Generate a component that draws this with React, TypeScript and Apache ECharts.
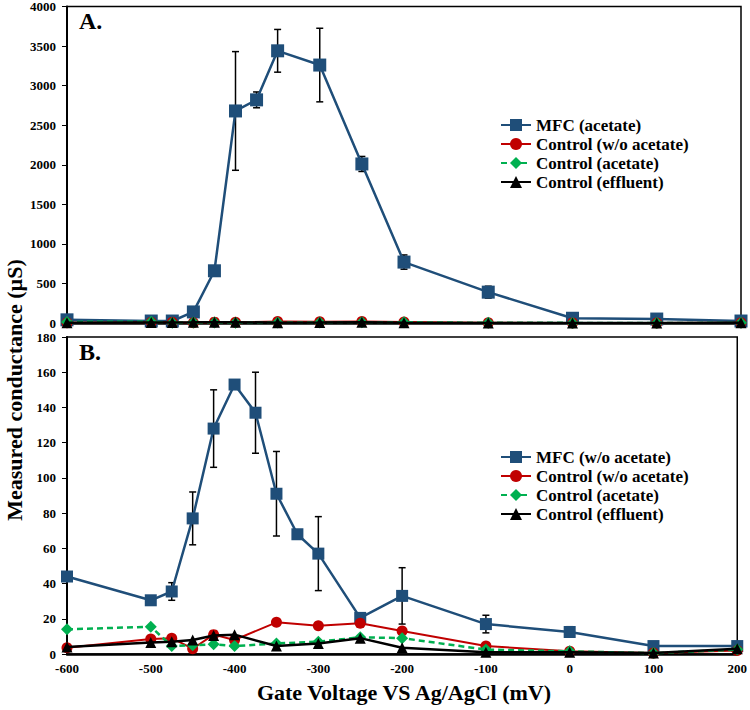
import React, { useEffect, useRef } from "react";
import * as echarts from "echarts";

// ---- data ----
const xA = [-600, -500, -475, -450, -425, -400, -375, -350, -300, -250, -200, -100, 0, 100, 200];
const mfcA = [40, 25, 25, 140, 660, 2680, 2820, 3440, 3260, 2010, 770, 390, 60, 50, 25];
const errA = [0, 0, 0, 0, 0, 750, 100, 270, 465, 95, 90, 75, 0, 0, 0];

const xB = [-600, -500, -475, -450, -425, -400, -375, -350, -325, -300, -250, -200, -100, 0, 100, 200];
const mfcB = [44, 30.5, 35.5, 77, 128, 153, 137, 91, 68, 57, 20.5, 33, 17, 12.5, 4.5, 4.5];
const errB = [0, 0, 5, 15, 22, 0, 23, 24, 0, 21, 0, 16, 5, 3, 0, 0];

const xC = [-600, -500, -475, -450, -425, -400, -350, -300, -250, -200, -100, 0, 100, 200];
const ctrlWoAcetate = [3.5, 8.5, 9, 3, 11, 8, 18, 16, 17.5, 13, 4.5, 1.5, 0.5, 2];
const ctrlAcetate = [14, 15.5, 4.5, 5, 5.5, 4.5, 6, 7, 9.5, 9, 2.5, 1.5, 0.5, 2.5];
const ctrlEffluent = [4, 6.5, 7, 8, 10.5, 11, 4.5, 6, 9, 3.5, 1, 1, 0.5, 3];

const legendA = ["MFC (acetate)", "Control (w/o acetate)", "Control (acetate)", "Control (effluent)"];
const legendB = ["MFC (w/o acetate)", "Control (w/o acetate)", "Control (acetate)", "Control (effluent)"];

const xTicks = { min: -600, max: 200, interval: 100 };
const yA = { min: 0, max: 4000, interval: 500 };
const yB = { min: 0, max: 180, interval: 20 };

const FONT = "Liberation Serif";
const BLUE = "#1F4E79";
const RED = "#C00000";
const GREEN = "#00B050";

const pair = (xs: number[], ys: number[]) => xs.map((x, i) => [x, ys[i]]);
const errData = (xs: number[], ys: number[], es: number[]) =>
  xs.map((x, i) => [x, ys[i], es[i]]).filter((d) => d[2] > 0);

function errSeries(idx: number, data: number[][]) {
  return {
    type: "custom",
    xAxisIndex: idx,
    yAxisIndex: idx,
    silent: true,
    z: 1,
    data,
    encode: { x: 0, y: 1 },
    renderItem: (_p: any, api: any) => {
      const x = api.value(0);
      const y = api.value(1);
      const e = api.value(2);
      const hi = api.coord([x, y + e]);
      const lo = api.coord([x, y - e]);
      const w = 3.5;
      const st = { stroke: "#000", lineWidth: 1.5 };
      return {
        type: "group",
        children: [
          { type: "line", shape: { x1: hi[0], y1: hi[1], x2: lo[0], y2: lo[1] }, style: st },
          { type: "line", shape: { x1: hi[0] - w, y1: hi[1], x2: hi[0] + w, y2: hi[1] }, style: st },
          { type: "line", shape: { x1: lo[0] - w, y1: lo[1], x2: lo[0] + w, y2: lo[1] }, style: st },
        ],
      };
    },
  };
}

function controlSeries(idx: number) {
  return [
    {
      name: "Control (w/o acetate)",
      type: "line",
      xAxisIndex: idx,
      yAxisIndex: idx,
      data: pair(xC, ctrlWoAcetate),
      symbol: "circle",
      symbolSize: 11,
      lineStyle: { color: RED, width: 2 },
      itemStyle: { color: RED },
      z: 3,
    },
    {
      name: "Control (acetate)",
      type: "line",
      xAxisIndex: idx,
      yAxisIndex: idx,
      data: pair(xC, ctrlAcetate),
      symbol: "diamond",
      symbolSize: 12,
      lineStyle: { color: GREEN, width: 2.5, type: [6, 4] },
      itemStyle: { color: GREEN },
      z: 4,
    },
    {
      name: "Control (effluent)",
      type: "line",
      xAxisIndex: idx,
      yAxisIndex: idx,
      data: pair(xC, ctrlEffluent),
      symbol: "triangle",
      symbolSize: 11,
      lineStyle: { color: "#000", width: 2.5 },
      itemStyle: { color: "#000" },
      z: 5,
    },
  ];
}

const labelStyle = { color: "#000", fontFamily: FONT, fontWeight: "bold" as const, fontSize: 13 };

export default function App() {
  const ref = useRef<HTMLDivElement>(null);
  useEffect(() => {
    if (!ref.current) return;
    const chart = echarts.init(ref.current, undefined, { renderer: "svg" });
    const legendBase = {
      orient: "vertical",
      itemWidth: 30,
      itemHeight: 15,
      itemGap: 0,
      padding: 0,
      selectedMode: false,
      textStyle: { ...labelStyle, fontSize: 17, lineHeight: 19 },
    };
    chart.setOption({
      animation: false,
      grid: [
        { left: 67, right: 9, top: 5, height: 318, show: true, borderColor: "#000", borderWidth: 1.5 },
        { left: 67, right: 9, top: 337, height: 317, show: true, borderColor: "#000", borderWidth: 1.5 },
      ],
      xAxis: [0, 1].map((i) => ({
        type: "value",
        gridIndex: i,
        ...xTicks,
        axisLine: { show: true, onZero: false, lineStyle: { color: "#000", width: 2.5 } },
        axisTick: { show: false },
        splitLine: { show: false },
        axisLabel: { show: i === 1, ...labelStyle, margin: 8, formatter: (v: number) => String(v) },
      })),
      yAxis: [yA, yB].map((y, i) => ({
        type: "value",
        gridIndex: i,
        ...y,
        axisLine: { show: true, onZero: false, lineStyle: { color: "#000", width: 2 } },
        axisTick: { show: true, length: 5, lineStyle: { color: "#000", width: 1 } },
        splitLine: { show: false },
        axisLabel: { ...labelStyle, margin: 11, formatter: (v: number) => String(v) },
      })),
      legend: [
        { ...legendBase, left: 500, top: 115.5, data: legendA },
        { ...legendBase, left: 500, top: 447.5, data: legendB },
      ],
      graphic: [
        { type: "text", left: 79, top: 9, style: { text: "A.", font: `bold 24px ${FONT}`, fill: "#000" } },
        { type: "text", left: 79, top: 340, style: { text: "B.", font: `bold 24px ${FONT}`, fill: "#000" } },
        {
          type: "text",
          x: 14,
          y: 390,
          rotation: Math.PI / 2,
          style: {
            text: "Measured conductance (µS)",
            font: `bold 22px ${FONT}`,
            fill: "#000",
            align: "center",
            verticalAlign: "middle",
          },
        },
        {
          type: "text",
          x: 404,
          y: 692,
          style: {
            text: "Gate Voltage VS Ag/AgCl (mV)",
            font: `bold 22px ${FONT}`,
            fill: "#000",
            align: "center",
            verticalAlign: "middle",
          },
        },
      ],
      series: [
        {
          name: "MFC (acetate)",
          type: "line",
          xAxisIndex: 0,
          yAxisIndex: 0,
          data: pair(xA, mfcA),
          symbol: "rect",
          symbolSize: 13,
          lineStyle: { color: BLUE, width: 2.5 },
          itemStyle: { color: BLUE },
          z: 2,
        },
        errSeries(0, errData(xA, mfcA, errA)),
        ...controlSeries(0),
        {
          name: "MFC (w/o acetate)",
          type: "line",
          xAxisIndex: 1,
          yAxisIndex: 1,
          data: pair(xB, mfcB),
          symbol: "rect",
          symbolSize: 12,
          lineStyle: { color: BLUE, width: 2.5 },
          itemStyle: { color: BLUE },
          z: 2,
        },
        errSeries(1, errData(xB, mfcB, errB)),
        ...controlSeries(1),
      ],
    });
    return () => chart.dispose();
  }, []);
  return (
    <div
      ref={ref}
      style={{ position: "absolute", left: 0, top: 0, width: 750, height: 710, background: "#fff" }}
    />
  );
}
